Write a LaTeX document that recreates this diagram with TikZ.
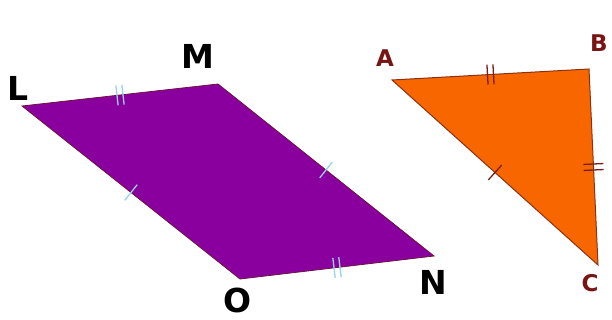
\documentclass[tikz,border=0pt]{standalone}
\usepackage{fontspec}
\setmainfont{DejaVu Sans}
\usetikzlibrary{decorations.markings}
\definecolor{purp}{RGB}{138,0,158}
\definecolor{orng}{RGB}{248,102,0}
\definecolor{edgeP}{RGB}{110,20,60}
\definecolor{edgeO}{RGB}{140,50,20}
\definecolor{tickP}{RGB}{150,210,235}
\definecolor{tickO}{RGB}{120,30,30}
\definecolor{lblO}{RGB}{120,20,20}
\tikzset{
  x=1pt,y=-1pt,
  biglbl/.style={font=\fontsize{33}{33}\selectfont\bfseries, text=black, inner sep=0pt},
  smalllbl/.style={font=\fontsize{23}{23}\selectfont\bfseries, text=lblO, inner sep=0pt},
  onetick/.style={postaction={decorate,decoration={markings,
      mark=at position 0.5 with {\draw[#1,line width=1.3pt] (0,-10) -- (0,10);}}}},
  twotick/.style={postaction={decorate,decoration={markings,
      mark=at position 0.5 with {\draw[#1,line width=1.3pt] (-3,-10) -- (-3,10) (3,-10) -- (3,10);}}}},
}
\begin{document}
\begin{tikzpicture}
\useasboundingbox (0,0) rectangle (612,320);
% parallelogram
\coordinate (L) at (22,106);
\coordinate (M) at (218,84);
\coordinate (N) at (434,256);
\coordinate (O) at (240,279);
\fill[purp,draw=edgeP,line width=0.8pt] (L) -- (M) -- (N) -- (O) -- cycle;
\path[twotick=tickP] (L) -- (M);
\path[onetick=tickP] (L) -- (O);
\path[onetick=tickP] (M) -- (N);
\path[twotick=tickP] (O) -- (N);
\node[biglbl] (lL) at (18,88) {L};
\node[biglbl] (lM) at (198,56) {M};
\node[biglbl] (lN) at (433,282) {N};
\node[biglbl] (lO) at (238,300) {O};
% triangle
\coordinate (A) at (392,80);
\coordinate (B) at (589,69);
\coordinate (C) at (598,265);
\fill[orng,draw=edgeO,line width=1pt] (A) -- (B) -- (C) -- cycle;
\path[twotick=tickO] (A) -- (B);
\path[twotick=tickO] (B) -- (C);
\path[onetick=tickO] (A) -- (C);
\node[smalllbl] (lA) at (385,58) {A};
\node[smalllbl] (lB) at (599,43) {B};
\node[smalllbl] (lC) at (590,283) {C};
\end{tikzpicture}
\end{document}
